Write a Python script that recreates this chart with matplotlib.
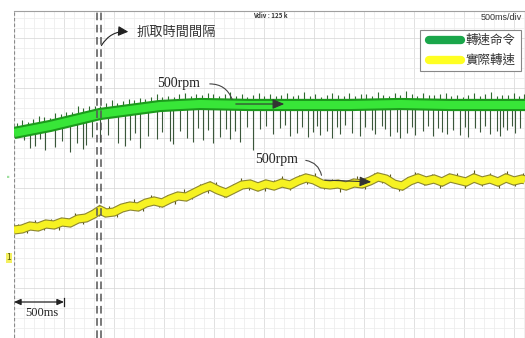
import matplotlib
matplotlib.use("Agg")
import matplotlib.pyplot as plt
from matplotlib.patches import Rectangle, FancyArrowPatch
import numpy as np

plt.rcParams['font.family'] = ['Noto Sans CJK TC', 'DejaVu Sans']

# ---- scope capture: time in ms, level in screen units (50 units per division)
cmd_t = [0, 360, 860, 1160, 1460, 1860, 2360, 2860, 3360, 3860, 4360, 4860, 5110]
cmd_level = [205, 212, 224, 228, 232, 234, 233, 233, 233, 234, 233, 233, 233]

# downward noise spikes on the command trace (time, tip level)
cmd_dn_t = [100, 160, 210, 260, 310, 410, 480, 560, 630, 690, 720, 780, 860, 940, 1040,
            1110, 1160, 1210, 1260, 1340, 1430, 1480, 1560, 1590, 1660, 1730, 1790, 1840,
            1890, 1940, 1990, 2060, 2120, 2160, 2210, 2260, 2330, 2390, 2460, 2520, 2590,
            2660, 2710, 2760, 2830, 2880, 2940, 2990, 3030, 3060, 3130, 3180, 3230, 3260,
            3310, 3380, 3460, 3510, 3580, 3610, 3680, 3710, 3760, 3830, 3860, 3930, 3980,
            4010, 4090, 4140, 4190, 4240, 4280, 4330, 4390, 4460, 4510, 4540, 4610, 4660,
            4710, 4760, 4830, 4860, 4890, 4930, 4980, 5010, 5060]
cmd_dn_tip = [198, 190, 192, 199, 188, 191, 197, 186, 195, 189, 193, 201, 196, 203, 195,
              192, 198, 205, 190, 202, 199, 206, 197, 194, 207, 200, 196, 210,
              198, 208, 195, 201, 209, 199, 207, 196, 211, 188, 209, 212, 204,
              210, 213, 202, 205, 211, 201, 206, 212, 203, 207, 200, 211, 204,
              213, 205, 202, 211, 208, 204, 212, 209, 202, 206, 200, 205, 211,
              203, 207, 212, 202, 210, 206, 204, 208, 203, 211, 201, 210, 206,
              212, 204, 207, 202, 211, 208, 212, 205, 210]

# upward fuzz on the command trace (time, height above the trace)
cmd_up_t = [30, 80, 140, 190, 250, 300, 360, 410, 470, 520, 580, 640, 690, 750, 810,
            860, 920, 980, 1030, 1090, 1150, 1200, 1260, 1310, 1370, 1430, 1480, 1540,
            1600, 1650, 1710, 1770, 1820, 1880, 1940, 1990, 2050, 2110, 2160, 2220, 2280,
            2330, 2390, 2450, 2500, 2560, 2620, 2670, 2730, 2790, 2840, 2900, 2960, 3010,
            3070, 3130, 3180, 3240, 3300, 3350, 3410, 3470, 3520, 3580, 3640, 3690, 3750,
            3810, 3860, 3920, 3980, 4030, 4090, 4150, 4200, 4260, 4320, 4370, 4430, 4490,
            4540, 4600, 4660, 4710, 4770, 4830, 4880, 4940, 5000, 5050, 5100]
cmd_up_h = [7, 10, 6, 9, 12, 8, 5, 11, 7, 9, 6, 13, 8, 10, 7, 5, 9, 12, 6, 8, 11, 7,
            10, 6, 9, 13, 7, 8, 5, 10, 12, 6, 9, 7, 11, 8, 6, 10, 13, 7, 9, 5, 8, 12,
            6, 10, 7, 9, 11, 6, 8, 13, 7, 10, 5, 9, 12, 8, 6, 11, 7, 10, 9, 6, 12, 8,
            5, 10, 7, 13, 9, 6, 11, 8, 7, 10, 12, 6, 9, 5, 8, 11, 7, 10, 13, 6, 9, 8,
            12, 7, 10]

act_t = [0, 80, 160, 240, 320, 400, 480, 560, 640, 720, 800, 860, 920, 1000, 1080, 1160,
         1240, 1320, 1400, 1480, 1560, 1640, 1720, 1800, 1880, 1960, 2040, 2120, 2200,
         2280, 2360, 2440, 2520, 2600, 2680, 2760, 2840, 2920, 3000, 3080, 3160, 3240,
         3320, 3400, 3480, 3560, 3640, 3720, 3800, 3880, 3960, 4040, 4120, 4200, 4280,
         4360, 4440, 4520, 4600, 4680, 4760, 4840, 4920, 5000, 5080, 5110]
act_level = [108, 109, 112, 111, 114, 113, 116, 115, 119, 120, 124, 128, 125, 126, 130, 132,
             131, 135, 137, 135, 139, 142, 141, 145, 149, 152, 148, 145, 149,
             153, 154, 151, 154, 152, 155, 153, 157, 160, 158, 154, 153, 154,
             152, 155, 154, 157, 161, 159, 154, 152, 157, 160, 157, 159, 156,
             160, 158, 156, 160, 157, 159, 156, 160, 157, 159, 158]

# dark noise ticks on the actual-speed trace (time, signed excursion)
act_tick_t = [40, 130, 210, 300, 370, 450, 530, 610, 690, 770, 850, 950, 1030, 1120,
              1200, 1290, 1370, 1450, 1530, 1610, 1700, 1780, 1860, 1940, 2020, 2100,
              2190, 2270, 2350, 2430, 2510, 2600, 2680, 2760, 2850, 2930, 3010, 3100,
              3180, 3260, 3350, 3430, 3510, 3600, 3680, 3760, 3850, 3930, 4010, 4100,
              4180, 4260, 4350, 4430, 4510, 4600, 4680, 4760, 4850, 4930, 5010, 5090]
act_tick_d = [6, -6, 7, -5, 6, -7, 5, 8, -6, 6, -5, 7, -6, 5, 8, -6, 7, -5, 6, -7, 8,
              -5, 6, -6, 7, -5, 6, 8, -6, 5, -7, 6, 7, -5, 6, -6, 8, -5, 6, -7, 5,
              7, -6, 6, -5, 8, -6, 6, 7, -5, 6, -7, 5, 7, -6, 8, -5, 6, -6, 7, -5, 6]

x_max, y_max = 5110, 327

fig = plt.figure(figsize=(5.25, 3.38), dpi=100)
fig.patch.set_facecolor('white')
ax = fig.add_axes([14 / 525, 0, 511 / 525, 327 / 338])
ax.set_xlim(0, x_max)
ax.set_ylim(0, y_max)
ax.set_facecolor('white')

# graticule
for gx in np.arange(0, x_max, 100):
    ax.axvline(gx, color='#dcdcdc' if gx % 500 == 0 else '#eeeeee', lw=0.6, zorder=0)
for gy in np.arange(0, y_max, 10):
    ax.axhline(gy, color='#dcdcdc' if gy % 50 == 0 else '#eeeeee', lw=0.6, zorder=0)

for s in ['right', 'bottom', 'left']:
    ax.spines[s].set_visible(False)
ax.spines['top'].set_color('#a0a0a0')
ax.spines['top'].set_linewidth(0.8)
ax.axvline(0, color='#8a8a8a', lw=1.6, ls=(0, (1.5, 1)), zorder=1)
ax.set_xticks([])
ax.set_yticks([])

# command trace with noise spikes
cmd_base_dn = np.interp(cmd_dn_t, cmd_t, cmd_level)
ax.vlines(cmd_dn_t, cmd_dn_tip, cmd_base_dn, color='#3a573a', lw=0.8, zorder=2)
cmd_base_up = np.interp(cmd_up_t, cmd_t, cmd_level)
ax.vlines(cmd_up_t, cmd_base_up, cmd_base_up + 5 + np.array(cmd_up_h) * 0.6,
          color='#2f6a2f', lw=0.8, zorder=2)
ax.plot(cmd_t, cmd_level, color='#1c9a1c', lw=8.8, solid_capstyle='butt', zorder=3)
ax.plot(cmd_t, cmd_level, color='#38e638', lw=5.8, solid_capstyle='butt', zorder=4)

# actual speed trace
act_base = np.interp(act_tick_t, act_t, act_level)
ax.vlines(act_tick_t, act_base, act_base + np.array(act_tick_d), color='#5a5620',
          lw=0.8, zorder=2)
ax.plot(act_t, act_level, color='#8c8630', lw=6.6, solid_capstyle='butt',
        solid_joinstyle='miter', zorder=3)
ax.plot(act_t, act_level, color='#f6f222', lw=5.0, solid_capstyle='butt', zorder=4)

# sampling interval markers
for xv in (830, 870):
    ax.axvline(xv, color='#555555', lw=1.1, ls=(0, (5, 3)), zorder=5)

ax.add_patch(FancyArrowPatch((860, 290), (1170, 306), connectionstyle='arc3,rad=-0.35',
                             arrowstyle='-|>,head_length=6,head_width=3', color='#222222',
                             lw=0.8, zorder=6))
ax.text(1230, 306, '抓取時間間隔', fontsize=9.5, color='#333333', va='center', ha='left',
        zorder=6)

# 500rpm annotations
serif = ['Liberation Serif', 'DejaVu Serif']
ax.text(1430, 254, '500rpm', fontsize=10, family=serif, color='#222222', va='center',
        ha='left', zorder=6)
ax.add_patch(FancyArrowPatch((1930, 254), (2190, 236), connectionstyle='arc3,rad=-0.4',
                             arrowstyle='-', color='#444444', lw=0.8, zorder=6))
ax.add_patch(FancyArrowPatch((2190, 234), (2730, 234),
                             arrowstyle='-|>,head_length=7,head_width=3', color='#333333',
                             lw=0.8, zorder=6))

ax.text(2410, 178, '500rpm', fontsize=10, family=serif, color='#222222', va='center',
        ha='left', zorder=6)
ax.add_patch(FancyArrowPatch((2890, 178), (3080, 160), connectionstyle='arc3,rad=-0.4',
                             arrowstyle='-', color='#444444', lw=0.8, zorder=6))
ax.add_patch(FancyArrowPatch((3080, 158), (3600, 156),
                             arrowstyle='-|>,head_length=7,head_width=3', color='#333333',
                             lw=0.8, zorder=6))

# time scale marker
ax.add_patch(FancyArrowPatch((0, 36), (500, 36), arrowstyle='<|-|>,head_length=4,head_width=1.8',
                             color='#222222', lw=0.9, shrinkA=0, shrinkB=0, zorder=6))
ax.plot([500, 500], [32, 40], color='#222222', lw=0.9, zorder=6)
ax.text(280, 25, '500ms', fontsize=9, family=serif, color='#222222', ha='center',
        va='center', zorder=6)

# header readouts
ax.text(5080, 321, '500ms/div', fontsize=6.5, family=['Liberation Sans', 'DejaVu Sans'],
        color='#333333', ha='right', va='center', zorder=6)
ax.text(2560, 323, 'Vdiv : 125 k', fontsize=4.5, fontweight='bold', color='#333333',
        ha='center', va='center', zorder=6)

# channel markers on the left edge
ax.text(-60, 160, '▪', fontsize=6, color='#9fe09f', ha='center', va='center', clip_on=False)
ax.text(-50, 80, '1', fontsize=6, color='#555500', ha='center', va='center', clip_on=False,
        bbox=dict(boxstyle='square,pad=0.1', fc='#f4f060', ec='none'))

# legend
ax.add_patch(Rectangle((4060, 267), 1010, 41, fc='white', ec='#888888', lw=0.8, zorder=7))
ax.plot([4150, 4470], [298, 298], color='#1aa64a', lw=6, solid_capstyle='round', zorder=8)
ax.plot([4150, 4470], [278, 278], color='#ffff22', lw=6, solid_capstyle='round', zorder=8)
ax.text(4510, 298, '轉速命令', fontsize=9, color='#333333', va='center', ha='left', zorder=8)
ax.text(4510, 278, '實際轉速', fontsize=9, color='#333333', va='center', ha='left', zorder=8)

fig.savefig('out.png', dpi=100)
